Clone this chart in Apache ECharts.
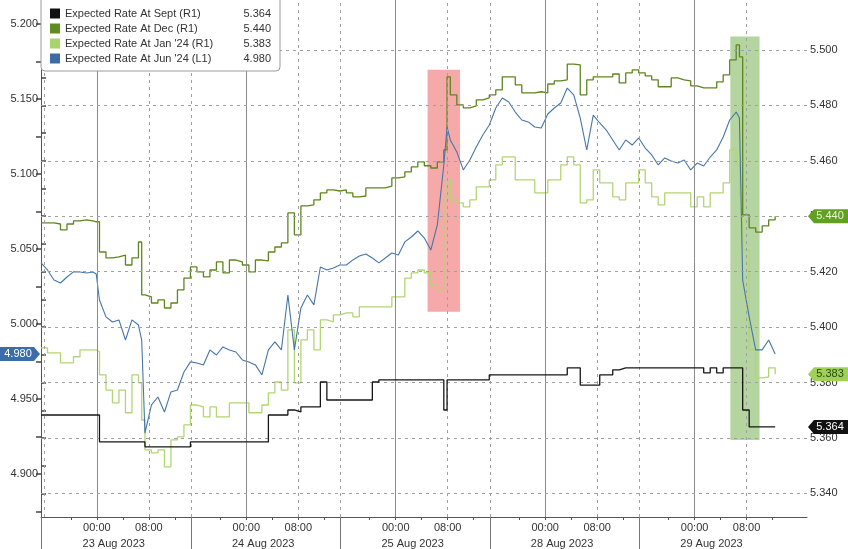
<!DOCTYPE html>
<html><head><meta charset="utf-8">
<script src="https://cdn.jsdelivr.net/npm/echarts@6/dist/echarts.min.js"></script>
<style>html,body{margin:0;padding:0;background:#fff}#c{width:848px;height:549px}</style>
</head><body><div id="c"></div>
<script>
// time axis: trading hours since session start (22 Aug 15:30); each session = 23h
const hours = [
0,1,2,3,4,5,6,7,8,8.5,
9,10,11,12,13,14,15,15.5,16,17,
18,19,20,21,22,23,24,25,26,27,
28,29,30,31,32,33,34,35,36,37,
38,39,40,41,42,43,44,45,46,47,
48,49,50,51,52,53,54,55,56,57,
58,59,60,61,62,62.5,63,64,65,66,
67,68,69,70,71,72,73,74,75,76,
77,78,79,80,81,82,83,84,85,86,
87,88,89,90,91,92,93,94,95,96,
97,98,99,100,101,102,103,104,105,106,
107,107.5,108,109,110,111,112,113];

const septRate = [
5.3683,5.3683,5.3683,5.3683,5.3683,5.3683,5.3683,5.3683,5.3683,5.3683,
5.3586,5.3586,5.3586,5.3586,5.3586,5.3586,5.3586,5.3586,5.3568,5.3568,
5.3568,5.3568,5.3568,5.3568,5.3568,5.3586,5.3586,5.3586,5.3586,5.3586,
5.3586,5.3586,5.3586,5.3586,5.3586,5.3586,5.3586,5.3683,5.3683,5.3683,
5.3701,5.3694,5.3712,5.3712,5.3712,5.3802,5.3737,5.3737,5.3737,5.3737,
5.3737,5.3737,5.3737,5.3802,5.3810,5.3810,5.3810,5.3810,5.3810,5.3810,
5.3810,5.3810,5.3810,5.3810,5.3701,5.3810,5.3810,5.3810,5.3810,5.3810,
5.3810,5.3810,5.3828,5.3828,5.3828,5.3828,5.3828,5.3828,5.3828,5.3828,
5.3828,5.3828,5.3828,5.3828,5.3853,5.3853,5.3791,5.3791,5.3791,5.3828,
5.3828,5.3846,5.3853,5.3853,5.3853,5.3853,5.3853,5.3853,5.3853,5.3853,
5.3853,5.3853,5.3853,5.3853,5.3853,5.3835,5.3853,5.3835,5.3853,5.3853,
5.3853,5.3853,5.3701,5.3640,5.3640,5.3640,5.3640,5.3640];

const decRate = [
5.4376,5.4376,5.4372,5.4351,5.4372,5.4383,5.4387,5.4383,5.4380,5.4380,
5.4271,5.4250,5.4253,5.4260,5.4224,5.4250,5.4307,5.4116,5.4109,5.4087,
5.4098,5.4069,5.4087,5.4134,5.4177,5.4217,5.4199,5.4181,5.4206,5.4235,
5.4196,5.4242,5.4235,5.4224,5.4199,5.4242,5.4239,5.4271,5.4289,5.4304,
5.4412,5.4333,5.4437,5.4441,5.4459,5.4484,5.4495,5.4491,5.4495,5.4484,
5.4470,5.4473,5.4502,5.4502,5.4502,5.4509,5.4538,5.4542,5.4560,5.4578,
5.4596,5.4582,5.4574,5.4596,5.4639,5.4903,5.4838,5.4802,5.4791,5.4798,
5.4820,5.4827,5.4838,5.4856,5.4903,5.4903,5.4874,5.4845,5.4845,5.4849,
5.4845,5.4877,5.4888,5.4892,5.4949,5.4946,5.4838,5.4892,5.4903,5.4903,
5.4903,5.4913,5.4881,5.4917,5.4928,5.4917,5.4906,5.4892,5.4867,5.4867,
5.4899,5.4892,5.4888,5.4870,5.4863,5.4863,5.4863,5.4885,5.4910,5.4964,
5.5018,5.4975,5.4405,5.4358,5.4343,5.4365,5.4387,5.4400];

const janRate = [
5.3925,5.3907,5.3907,5.3871,5.3871,5.3893,5.3918,5.3918,5.3918,5.3911,
5.3828,5.3773,5.3727,5.3773,5.3691,5.3828,5.3799,5.3665,5.3557,5.3546,
5.3557,5.3496,5.3593,5.3604,5.3647,5.3719,5.3712,5.3676,5.3712,5.3676,
5.3676,5.3727,5.3727,5.3727,5.3691,5.3691,5.3719,5.3763,5.3802,5.3773,
5.3990,5.3799,5.3954,5.3990,5.3918,5.4026,5.4019,5.4044,5.4051,5.4051,
5.4037,5.4073,5.4073,5.4073,5.4073,5.4073,5.4109,5.4109,5.4177,5.4196,
5.4206,5.4196,5.4152,5.4134,5.4459,5.4531,5.4459,5.4448,5.4434,5.4459,
5.4506,5.4506,5.4531,5.4585,5.4614,5.4614,5.4531,5.4531,5.4531,5.4484,
5.4484,5.4531,5.4531,5.4585,5.4614,5.4585,5.4448,5.4459,5.4567,5.4520,
5.4520,5.4470,5.4459,5.4520,5.4520,5.4567,5.4520,5.4470,5.4441,5.4484,
5.4484,5.4484,5.4484,5.4434,5.4470,5.4434,5.4484,5.4484,5.4520,5.4639,
5.4585,5.4477,5.4279,5.3918,5.3817,5.3820,5.3853,5.3830];

const junRate = [
5.0407,5.0360,5.0293,5.0273,5.0313,5.0347,5.0347,5.0340,5.0347,5.0333,
5.0160,5.0047,5.0013,5.0027,4.9893,5.0027,4.9993,4.9893,4.9273,4.9460,
4.9513,4.9413,4.9547,4.9560,4.9680,4.9747,4.9740,4.9727,4.9827,4.9793,
4.9847,4.9827,4.9813,4.9760,4.9747,4.9727,4.9660,4.9827,4.9880,4.9827,
5.0193,4.9827,5.0107,5.0193,5.0127,5.0380,5.0360,5.0373,5.0393,5.0393,
5.0427,5.0453,5.0467,5.0440,5.0407,5.0440,5.0473,5.0460,5.0547,5.0580,
5.0620,5.0573,5.0493,5.0660,5.1060,5.1313,5.1227,5.1147,5.1027,5.1093,
5.1180,5.1260,5.1327,5.1440,5.1507,5.1480,5.1413,5.1360,5.1347,5.1313,
5.1307,5.1400,5.1440,5.1473,5.1573,5.1527,5.1373,5.1160,5.1393,5.1340,
5.1293,5.1227,5.1160,5.1227,5.1193,5.1240,5.1173,5.1127,5.1060,5.1107,
5.1087,5.1073,5.1093,5.1027,5.1073,5.1053,5.1113,5.1160,5.1247,5.1360,
5.1413,5.1373,5.0293,5.0047,4.9827,4.9827,4.9893,4.9800];

const seriesNames = ['Expected Rate At Sept (R1)', 'Expected Rate At Dec (R1)', "Expected Rate At Jan '24 (R1)", "Expected Rate At Jun '24 (L1)"];
const dayMidnights = [8.6, 31.6, 54.6, 77.6, 100.6];
const dayLabels = ['23 Aug 2023', '24 Aug 2023', '25 Aug 2023', '28 Aug 2023', '29 Aug 2023'];
const timeTickLabels = ['00:00', '08:00'];
const leftTicks = [4.90, 4.95, 5.00, 5.05, 5.10, 5.15, 5.20];
const leftMinorTicks = [4.875, 4.925, 4.975, 5.025, 5.075, 5.125, 5.175];
const rightTicks = [5.34, 5.36, 5.38, 5.40, 5.42, 5.44, 5.46, 5.48, 5.50];
const rightMinorTicks = [5.35, 5.37, 5.39, 5.41, 5.43, 5.45, 5.47, 5.49, 5.51];
const redBox = { x: [59.5, 64.5], y: [5.4055, 5.4928] };
const greenBox = { x: [106.1, 110.6], y: [5.3593, 5.5048] };

const X_MAX = 117.9;
const L_MIN = 4.8713, L_MAX = 5.2160;
const R_MIN = 5.3315, R_MAX = 5.5180;
const FONT = "'Liberation Sans', Arial, sans-serif";
const colors = { sept: '#161616', dec: '#5e861f', jan: '#b2d672', jun: '#4676a8' };
const legendColors = ['#111111', '#5e8c21', '#a8d56b', '#3b6da4'];

const pairs = arr => hours.map((h, i) => [h, arr[i]]);
const last = arr => arr[arr.length - 1];
const lastVals = {};
[septRate, decRate, janRate, junRate].forEach((a, i) => { lastVals[seriesNames[i]] = last(a).toFixed(3); });

// x axis positions
const timePos = [], timeMap = {};
dayMidnights.forEach(m => {
  [0, 8].forEach((o, k) => { timePos.push(m + o); timeMap[(m + o).toFixed(2)] = timeTickLabels[k]; });
});
const datePos = dayMidnights.map(m => m + 2.6);
const dateMap = {};
datePos.forEach((p, i) => dateMap[p.toFixed(2)] = dayLabels[i]);
const sepPos = [0].concat(dayMidnights.slice(0, 4).map(m => m + 14.5));
const minorX = [];
dayMidnights.forEach(m => [-4, 0, 4, 8, 12].forEach(o => minorX.push(m + o)));

// grid lines
const gridLines = [];
dayMidnights.forEach(m => gridLines.push({ xAxis: m, lineStyle: { type: 'solid', color: '#8c8c8c', width: 1 } }));
dayMidnights.forEach(m => gridLines.push({ xAxis: m + 8, lineStyle: { type: [3, 4], color: '#a0a0a0', width: 1 } }));
[0.5].concat(dayMidnights.slice(0, 4).map(m => m + 14.5)).forEach(v =>
  gridLines.push({ xAxis: v, lineStyle: { type: [3, 4], color: '#a0a0a0', width: 1 } }));
rightTicks.forEach(v => gridLines.push({ yAxis: v, lineStyle: { type: [3, 4], color: '#a0a0a0', width: 1 } }));

function tag(x, y, bg, fg, side) {
  return {
    silent: true, animation: false,
    symbol: side === 'right' ? 'path://M0,7L6,0L40,0L40,14L6,14Z' : 'path://M0,0L34,0L40,7L34,14L0,14Z',
    symbolSize: [40, 14],
    symbolOffset: [side === 'right' ? 21 : -21, 0],
    itemStyle: { color: bg },
    label: { show: true, position: 'inside', color: fg, fontSize: 11, fontFamily: FONT, formatter: () => y.toFixed(3), offset: [side === 'right' ? 2 : -2, 0] },
    data: [{ coord: [x, y], value: y }]
  };
}

const axisLabelStyle = { color: '#333', fontSize: 11, fontFamily: FONT };
const baseLine = { type: 'line', showSymbol: false, animation: false, silent: true, xAxisIndex: 0 };

const chart = echarts.init(document.getElementById('c'), null, { renderer: 'canvas' });
chart.setOption({
  animation: false,
  backgroundColor: '#ffffff',
  grid: { left: 41, right: 41, top: 0, bottom: 32, containLabel: false },
  legend: {
    z: 30, zlevel: 0,
    data: seriesNames.map((n, i) => ({ name: n, itemStyle: { color: legendColors[i] }, lineStyle: { opacity: 0 } })),
    orient: 'vertical', left: 41, top: -4,
    itemWidth: 10, itemHeight: 10, itemGap: 2,
    padding: [11, 9, 6, 9],
    backgroundColor: '#ffffff', borderColor: '#9a9a9a', borderWidth: 1, borderRadius: 4,
    icon: 'rect', selectedMode: false,
    formatter: name => '{n|' + name + '}{v|' + lastVals[name] + '}',
    textStyle: {
      fontFamily: FONT, fontSize: 11, color: '#333', lineHeight: 13,
      rich: {
        n: { width: 170, fontFamily: FONT, fontSize: 11, color: '#333' },
        v: { width: 36, align: 'right', fontFamily: FONT, fontSize: 11, color: '#333' }
      }
    }
  },
  xAxis: [
    {
      type: 'value', min: 0, max: X_MAX, position: 'bottom',
      axisLine: { show: true, lineStyle: { color: '#555', width: 1 } },
      axisTick: { show: true, length: 3, customValues: minorX, lineStyle: { color: '#555' } },
      axisLabel: Object.assign({ customValues: timePos, margin: 5, formatter: v => timeMap[(+v).toFixed(2)] || '' }, axisLabelStyle),
      splitLine: { show: false }
    },
    {
      type: 'value', min: 0, max: X_MAX, position: 'bottom', offset: 16,
      axisLine: { show: false }, axisTick: { show: false },
      axisLabel: Object.assign({ customValues: datePos, margin: 5, formatter: v => dateMap[(+v).toFixed(2)] || '' }, axisLabelStyle),
      splitLine: { show: false }
    },
    {
      type: 'value', min: 0, max: X_MAX, position: 'bottom',
      axisLine: { show: false },
      axisTick: { show: true, length: 32, customValues: sepPos, lineStyle: { color: '#777', width: 1 } },
      axisLabel: { show: false }, splitLine: { show: false }
    }
  ],
  yAxis: [
    {
      type: 'value', position: 'left', min: L_MIN, max: L_MAX,
      axisLine: { show: true, lineStyle: { color: '#555' } },
      axisTick: { show: true, length: 5, customValues: leftTicks.concat(leftMinorTicks), lineStyle: { color: '#444', width: 1.5 } },
      axisLabel: Object.assign({ customValues: leftTicks, margin: 3, formatter: v => (+v).toFixed(3) }, axisLabelStyle),
      splitLine: { show: false }
    },
    {
      type: 'value', position: 'right', min: R_MIN, max: R_MAX,
      axisLine: { show: true, lineStyle: { color: '#555' } },
      axisTick: { show: true, length: 5, customValues: rightTicks.concat(rightMinorTicks), lineStyle: { color: '#444', width: 1.5 } },
      axisLabel: Object.assign({ customValues: rightTicks, margin: 3, formatter: v => (+v).toFixed(3) }, axisLabelStyle),
      splitLine: { show: false }
    }
  ],
  series: [
    Object.assign({}, baseLine, { yAxisIndex: 1, data: [], z: 1,
      markLine: { silent: true, symbol: 'none', animation: false, label: { show: false }, data: gridLines } }),
    Object.assign({}, baseLine, { name: seriesNames[0], yAxisIndex: 1, step: 'end', data: pairs(septRate), z: 5,
      lineStyle: { color: colors.sept, width: 1.3 }, itemStyle: { color: colors.sept },
      markPoint: tag(X_MAX, last(septRate), '#111111', '#ffffff', 'right') }),
    Object.assign({}, baseLine, { name: seriesNames[1], yAxisIndex: 1, step: 'end', data: pairs(decRate), z: 3,
      lineStyle: { color: colors.dec, width: 1.3 }, itemStyle: { color: colors.dec },
      markPoint: tag(X_MAX, last(decRate), '#62a024', '#e6f4cf', 'right') }),
    Object.assign({}, baseLine, { name: seriesNames[2], yAxisIndex: 1, step: 'end', data: pairs(janRate), z: 2,
      lineStyle: { color: colors.jan, width: 1.3 }, itemStyle: { color: colors.jan },
      markPoint: tag(X_MAX, last(janRate), '#9fd058', '#2d4a10', 'right') }),
    Object.assign({}, baseLine, { name: seriesNames[3], yAxisIndex: 0, data: pairs(junRate), z: 4,
      lineStyle: { color: colors.jun, width: 1.1 }, itemStyle: { color: colors.jun },
      markPoint: tag(0, last(junRate), '#3b6ea8', '#ffffff', 'left') }),
    Object.assign({}, baseLine, { yAxisIndex: 1, data: [], z: 8,
      markArea: { silent: true, animation: false, data: [
        [{ xAxis: redBox.x[0], yAxis: redBox.y[1], itemStyle: { color: 'rgba(236,98,98,0.55)' } }, { xAxis: redBox.x[1], yAxis: redBox.y[0] }],
        [{ xAxis: greenBox.x[0], yAxis: greenBox.y[1], itemStyle: { color: 'rgba(118,178,82,0.55)' } }, { xAxis: greenBox.x[1], yAxis: greenBox.y[0] }]
      ] } })
  ]
});
</script></body></html>
